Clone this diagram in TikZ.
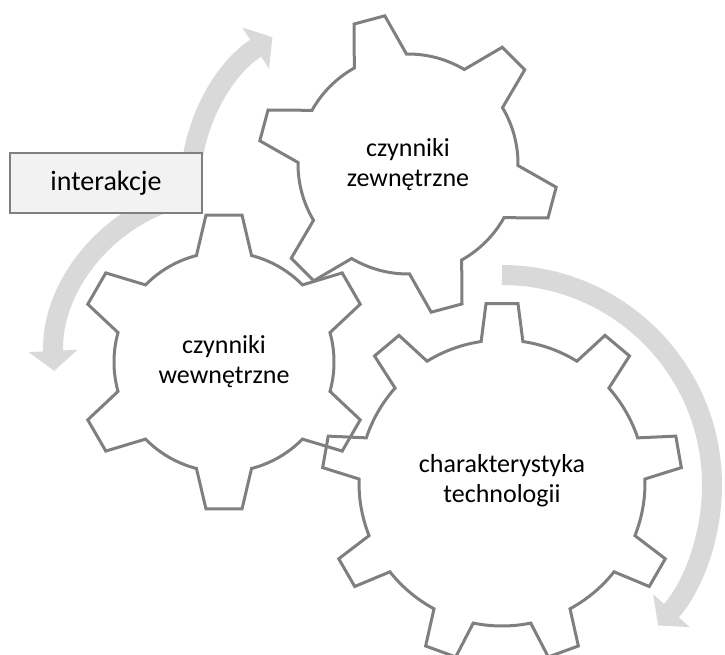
\documentclass[tikz,border=0pt]{standalone}
\usepackage{fontspec}
\setmainfont{Carlito}
\usetikzlibrary{arrows.meta}

\definecolor{cogline}{HTML}{7F7F7F}
\definecolor{arcfill}{HTML}{D9D9D9}
\definecolor{boxfill}{HTML}{F2F2F2}

% cog outline: #1 centre, #2 teeth, #3 angle of first tooth,
% #4 root radius, #5 tip radius, #6 half angle at root, #7 half angle at tip
\newcommand{\cog}[7]{%
  \draw[cogedge, shift={#1}] ({#3-#6}:#4)
    \foreach \k in {1,...,#2} {
      -- ({#3+(\k-1)*360/#2-#7}:#5) -- ({#3+(\k-1)*360/#2+#7}:#5)
      -- ({#3+(\k-1)*360/#2+#6}:#4)
      arc[start angle={#3+(\k-1)*360/#2+#6}, end angle={#3+\k*360/#2-#6}, radius=#4]
    } -- cycle;}

\begin{document}
\begin{tikzpicture}[x=1pt, y=1pt,
  cogedge/.style={line width=3pt, draw=cogline, line join=miter},
  turn/.style={draw=arcfill, line width=20pt, -{Triangle[length=20pt, width=48pt]}},
  cogtext/.style={align=center, font=\fontsize{26}{30}\selectfont}]
  \useasboundingbox (0,0) rectangle (725,654);

  \coordinate (tA) at ([shift={(371,465)}]180:181);
  \coordinate (tB) at ([shift={(224,292)}]108:170);
  \coordinate (tC) at ([shift={(502,169)}]90:210);
  \draw[turn] (tA) arc[start angle=180, end angle=123, radius=181]; % up to the top cog
  \draw[turn] (tB) arc[start angle=108, end angle=183, radius=170]; % down past the left cog
  \draw[turn] (tC) arc[start angle=90, end angle=-42, radius=210]; % round the big cog

  \node[draw=cogline, fill=boxfill, line width=1.5pt, minimum width=192pt,
    minimum height=60pt, font=\fontsize{28}{32}\selectfont] (inter) at (106,471) {interakcje};

  \cog{(502,171)}{9}{10}{143}{180}{8.4}{5.1} % big cog
  \cog{(408,490)}{6}{45}{110}{150}{14.2}{6.1} % top cog
  \cog{(224,292)}{6}{90}{110}{148}{14.5}{7} % left cog

  \node[cogtext] (tech) at (502,173) {charakterystyka\\technologii};
  \node[cogtext] (zew) at (408,489) {czynniki\\zewnętrzne};
  \node[cogtext] (wew) at (224,292) {czynniki\\wewnętrzne};
\end{tikzpicture}
\end{document}
